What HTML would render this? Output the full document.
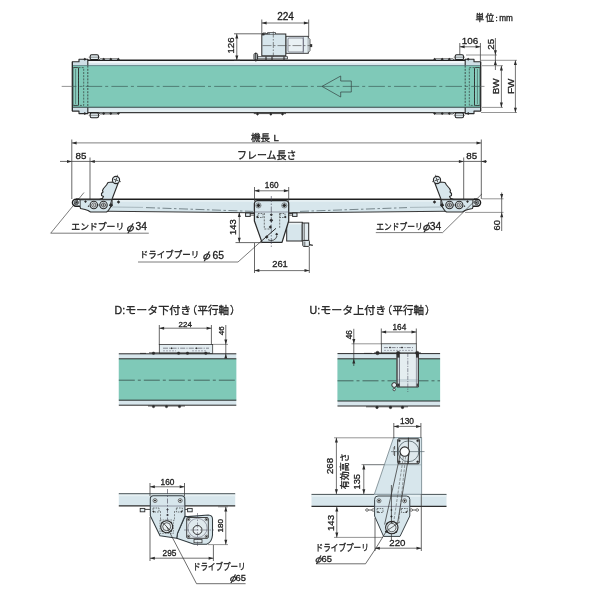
<!DOCTYPE html>
<html lang="ja"><head><meta charset="utf-8"><title>conveyor dimensions</title>
<style>
html,body{margin:0;padding:0;background:#fff;}
body{width:600px;height:600px;overflow:hidden;}
svg{display:block;}
text{font-family:"Liberation Sans","Noto Sans CJK JP",sans-serif;fill:#1c1c1c;stroke:#1c1c1c;stroke-width:0.3px;}
</style></head><body>
<svg width="600" height="600" viewBox="0 0 600 600" style="transform:translateZ(0)">
<rect x="88" y="60.3" width="377" height="52.2" fill="#d7e6ec" stroke="#2b2b2b" stroke-width="0.0" rx="0" />
<rect x="88" y="60.6" width="377" height="2.6" fill="#f1f6f8" stroke="#2b2b2b" stroke-width="0.0" rx="0" />
<rect x="88" y="109.6" width="377" height="2.6" fill="#e4eef1" stroke="#2b2b2b" stroke-width="0.0" rx="0" />
<path d="M72.4,61.7 L79,61.7 L79,59.2 L87.8,59.2 L87.8,113.6 L79,113.6 L79,111.1 L72.4,111.1 Z" fill="#cfdfe6" stroke="#2b2b2b" stroke-width="1.12" stroke-linejoin="round" />
<path d="M480.6,61.7 L474,61.7 L474,59.2 L465.2,59.2 L465.2,113.6 L474,113.6 L474,111.1 L480.6,111.1 Z" fill="#cfdfe6" stroke="#2b2b2b" stroke-width="1.12" stroke-linejoin="round" />
<rect x="72.4" y="65.6" width="408.2" height="41.7" fill="#7fc9b8" stroke="#2b2b2b" stroke-width="0.0" rx="0" />
<line x1="72.4" y1="65.6" x2="480.6" y2="65.6" stroke="#5f7f84" stroke-width="0.88" />
<line x1="72.4" y1="107.3" x2="480.6" y2="107.3" stroke="#3a4a4a" stroke-width="1.12" />
<line x1="87.8" y1="60.3" x2="465.2" y2="60.3" stroke="#1e1e1e" stroke-width="1.38" />
<line x1="87.8" y1="112.5" x2="465.2" y2="112.5" stroke="#3c3c3c" stroke-width="1.25" />
<line x1="72.4" y1="61.7" x2="72.4" y2="111.1" stroke="#2b2b2b" stroke-width="1.25" />
<line x1="480.6" y1="61.7" x2="480.6" y2="111.1" stroke="#2b2b2b" stroke-width="1.25" />
<rect x="72.9" y="67.6" width="5.6" height="37.8" fill="#8bcfc0" stroke="#2b2b2b" stroke-width="0.88" rx="0.8" />
<line x1="75.6" y1="69" x2="75.6" y2="104" stroke="#3a5a55" stroke-width="0.62" />
<rect x="474.5" y="67.6" width="5.6" height="37.8" fill="#8bcfc0" stroke="#2b2b2b" stroke-width="0.88" rx="0.8" />
<line x1="477.4" y1="69" x2="477.4" y2="104" stroke="#3a5a55" stroke-width="0.62" />
<rect x="78.5" y="67.6" width="5.2" height="37.8" fill="none" stroke="#2b2b2b" stroke-width="0.62" rx="0" stroke-dasharray="2 1.2"/>
<rect x="469.3" y="67.6" width="5.2" height="37.8" fill="none" stroke="#2b2b2b" stroke-width="0.62" rx="0" stroke-dasharray="2 1.2"/>
<line x1="87.8" y1="65.6" x2="87.8" y2="107.3" stroke="#2b2b2b" stroke-width="0.75" stroke-dasharray="2 1.2"/>
<line x1="465.2" y1="65.6" x2="465.2" y2="107.3" stroke="#2b2b2b" stroke-width="0.75" stroke-dasharray="2 1.2"/>
<line x1="72.4" y1="86.4" x2="480.6" y2="86.4" stroke="#3c5c58" stroke-width="0.69" stroke-dasharray="16.5 3 3 3.2" stroke-dashoffset="12.4"/>
<line x1="61.7" y1="86.4" x2="72.4" y2="86.4" stroke="#666" stroke-width="0.69" />
<line x1="480.6" y1="86.4" x2="484.5" y2="86.4" stroke="#666" stroke-width="0.69" />
<rect x="90.2" y="54.8" width="8.3" height="4.8" fill="#e3edf1" stroke="#222" stroke-width="1.06" rx="1.4" />
<line x1="88.7" y1="57.2" x2="100.0" y2="57.2" stroke="#444" stroke-width="0.56" />
<rect x="90.2" y="112.9" width="8.3" height="4.8" fill="#e3edf1" stroke="#222" stroke-width="1.06" rx="1.4" />
<line x1="88.7" y1="115.3" x2="100.0" y2="115.3" stroke="#444" stroke-width="0.56" />
<rect x="455.2" y="54.8" width="8.3" height="4.8" fill="#e3edf1" stroke="#222" stroke-width="1.06" rx="1.4" />
<line x1="453.7" y1="57.2" x2="465.0" y2="57.2" stroke="#444" stroke-width="0.56" />
<rect x="455.2" y="112.9" width="8.3" height="4.8" fill="#e3edf1" stroke="#222" stroke-width="1.06" rx="1.4" />
<line x1="453.7" y1="115.3" x2="465.0" y2="115.3" stroke="#444" stroke-width="0.56" />
<path d="M98.8,60 L100,58.9 L117,58.9 L119.5,60" fill="#e3edf1" stroke="#333" stroke-width="0.88" stroke-linejoin="round" />
<path d="M98.8,112.8 L100,113.9 L117,113.9 L119.5,112.8" fill="#e3edf1" stroke="#333" stroke-width="0.88" stroke-linejoin="round" />
<path d="M454.2,60 L453,58.9 L436,58.9 L433.5,60" fill="#e3edf1" stroke="#333" stroke-width="0.88" stroke-linejoin="round" />
<path d="M454.2,112.8 L453,113.9 L436,113.9 L433.5,112.8" fill="#e3edf1" stroke="#333" stroke-width="0.88" stroke-linejoin="round" />
<polygon points="84.8,57.8 86.3,59.3 84.8,60.8 83.3,59.3" fill="#2b2b2b"/>
<polygon points="84.8,112.0 86.3,113.5 84.8,115.0 83.3,113.5" fill="#2b2b2b"/>
<polygon points="103.7,57.8 105.2,59.3 103.7,60.8 102.2,59.3" fill="#2b2b2b"/>
<polygon points="103.7,112.0 105.2,113.5 103.7,115.0 102.2,113.5" fill="#2b2b2b"/>
<polygon points="110.8,57.8 112.3,59.3 110.8,60.8 109.3,59.3" fill="#2b2b2b"/>
<polygon points="110.8,112.0 112.3,113.5 110.8,115.0 109.3,113.5" fill="#2b2b2b"/>
<polygon points="118.3,57.8 119.8,59.3 118.3,60.8 116.8,59.3" fill="#2b2b2b"/>
<polygon points="118.3,112.0 119.8,113.5 118.3,115.0 116.8,113.5" fill="#2b2b2b"/>
<polygon points="468.2,57.8 469.7,59.3 468.2,60.8 466.7,59.3" fill="#2b2b2b"/>
<polygon points="468.2,112.0 469.7,113.5 468.2,115.0 466.7,113.5" fill="#2b2b2b"/>
<polygon points="449.3,57.8 450.8,59.3 449.3,60.8 447.8,59.3" fill="#2b2b2b"/>
<polygon points="449.3,112.0 450.8,113.5 449.3,115.0 447.8,113.5" fill="#2b2b2b"/>
<polygon points="442.2,57.8 443.7,59.3 442.2,60.8 440.7,59.3" fill="#2b2b2b"/>
<polygon points="442.2,112.0 443.7,113.5 442.2,115.0 440.7,113.5" fill="#2b2b2b"/>
<polygon points="434.7,57.8 436.2,59.3 434.7,60.8 433.2,59.3" fill="#2b2b2b"/>
<polygon points="434.7,112.0 436.2,113.5 434.7,115.0 433.2,113.5" fill="#2b2b2b"/>
<line x1="253.8" y1="113.6" x2="286" y2="113.6" stroke="#333" stroke-width="0.88" />
<line x1="257.5" y1="112.5" x2="257.5" y2="115.2" stroke="#2b2b2b" stroke-width="1.25" />
<polygon points="257.5,112.8 258.9,114.2 257.5,115.60000000000001 256.1,114.2" fill="#2b2b2b"/>
<line x1="270.8" y1="112.5" x2="270.8" y2="115.2" stroke="#2b2b2b" stroke-width="1.25" />
<polygon points="270.8,112.8 272.2,114.2 270.8,115.60000000000001 269.40000000000003,114.2" fill="#2b2b2b"/>
<line x1="282.5" y1="112.5" x2="282.5" y2="115.2" stroke="#2b2b2b" stroke-width="1.25" />
<polygon points="282.5,112.8 283.9,114.2 282.5,115.60000000000001 281.1,114.2" fill="#2b2b2b"/>
<path d="M322,86.4 L340.7,76 L340.7,81 L351.3,81 L351.3,92 L340.7,92 L340.7,97 Z" fill="none" stroke="#3a4a48" stroke-width="0.75" stroke-linejoin="round" />
<rect x="285.8" y="36.3" width="22.5" height="17" fill="#e3edf1" stroke="#2b2b2b" stroke-width="0.88" rx="0" />
<rect x="261.8" y="34" width="24" height="21.8" fill="#d7e6ec" stroke="#2b2b2b" stroke-width="1.0" rx="0" />
<rect x="288" y="38" width="15.3" height="14" fill="#e9f1f4" stroke="#556" stroke-width="0.62" rx="1" />
<line x1="303.3" y1="36.3" x2="303.3" y2="53.3" stroke="#556" stroke-width="0.62" />
<path d="M308.3,37.5 L310,39.5 L310,50.5 L308.3,52.5" fill="#e3edf1" stroke="#2b2b2b" stroke-width="0.75" stroke-linejoin="round" />
<rect x="310.2" y="44.3" width="1.8" height="2.6" fill="#2b2b2b" stroke="#2b2b2b" stroke-width="0.38" rx="0" />
<path d="M263,34 L263,33 L266,33 L266,34 M267.5,34 L267.5,32.6 L275.5,32.6 L275.5,34" fill="#d7e6ec" stroke="#2b2b2b" stroke-width="0.75" stroke-linejoin="round" />
<rect x="262.2" y="33.4" width="2.2" height="1.8" fill="#2b2b2b" stroke="#2b2b2b" stroke-width="0.25" rx="0" />
<line x1="262.5" y1="45.6" x2="310" y2="45.6" stroke="#444" stroke-width="0.62" stroke-dasharray="9 2 2 2"/>
<line x1="273.3" y1="31.5" x2="273.3" y2="58.5" stroke="#444" stroke-width="0.62" stroke-dasharray="6 1.5 1.5 1.5"/>
<rect x="257.5" y="56.7" width="30" height="2.2" fill="#e3edf1" stroke="#2b2b2b" stroke-width="0.75" rx="0" />
<rect x="254" y="53.6" width="3.6" height="6.2" fill="#e3edf1" stroke="#2b2b2b" stroke-width="1.0" rx="0.8" />
<line x1="255.8" y1="52.5" x2="255.8" y2="61.5" stroke="#2b2b2b" stroke-width="1.12" />
<line x1="266" y1="56.5" x2="266" y2="60.5" stroke="#2b2b2b" stroke-width="1.12" />
<line x1="272" y1="56.5" x2="272" y2="60.5" stroke="#2b2b2b" stroke-width="1.12" />
<line x1="284" y1="56.5" x2="284" y2="60.5" stroke="#2b2b2b" stroke-width="1.12" />
<line x1="261.8" y1="19.5" x2="261.8" y2="33.5" stroke="#3c3c3c" stroke-width="0.78" />
<line x1="308.7" y1="19.5" x2="308.7" y2="37" stroke="#3c3c3c" stroke-width="0.78" />
<line x1="261.8" y1="23" x2="308.7" y2="23" stroke="#444" stroke-width="0.75" />
<polygon points="261.8,23 266.6,21.5 266.6,24.5" fill="#2b2b2b"/>
<polygon points="308.7,23 303.9,21.5 303.9,24.5" fill="#2b2b2b"/>
<text x="285.6" y="20" font-size="10" text-anchor="middle" font-weight="400" letter-spacing="0" >224</text>
<line x1="234" y1="33.8" x2="270" y2="33.8" stroke="#3c3c3c" stroke-width="0.78" />
<line x1="234" y1="60.3" x2="240" y2="60.3" stroke="#3c3c3c" stroke-width="0.78" />
<line x1="236.8" y1="33.8" x2="236.8" y2="60.3" stroke="#444" stroke-width="0.75" />
<polygon points="236.8,33.8 235.3,38.599999999999994 238.3,38.599999999999994" fill="#2b2b2b"/>
<polygon points="236.8,60.3 235.3,55.5 238.3,55.5" fill="#2b2b2b"/>
<text x="233.8" y="45.5" font-size="9.7" text-anchor="middle" font-weight="400" letter-spacing="0" transform="rotate(-90 233.8 45.5)" >126</text>
<line x1="459.8" y1="43" x2="459.8" y2="55" stroke="#3c3c3c" stroke-width="0.78" />
<line x1="480.4" y1="43" x2="480.4" y2="61" stroke="#3c3c3c" stroke-width="0.78" />
<line x1="459.8" y1="46.8" x2="480.4" y2="46.8" stroke="#444" stroke-width="0.75" />
<polygon points="459.8,46.8 464.6,45.3 464.6,48.3" fill="#2b2b2b"/>
<polygon points="480.4,46.8 475.59999999999997,45.3 475.59999999999997,48.3" fill="#2b2b2b"/>
<text x="470" y="44.2" font-size="9.9" text-anchor="middle" font-weight="400" letter-spacing="0" >106</text>
<line x1="466" y1="55" x2="497" y2="55" stroke="#555" stroke-width="0.62" />
<line x1="481" y1="60.3" x2="517" y2="60.3" stroke="#555" stroke-width="0.62" />
<line x1="495.4" y1="38" x2="495.4" y2="70" stroke="#2b2b2b" stroke-width="0.69" />
<polygon points="495.4,55 493.9,50.2 496.9,50.2" fill="#2b2b2b"/>
<polygon points="495.4,60.3 493.9,65.1 496.9,65.1" fill="#2b2b2b"/>
<text x="494" y="44.3" font-size="9.7" text-anchor="middle" font-weight="400" letter-spacing="0" transform="rotate(-90 494 44.3)" >25</text>
<line x1="482" y1="65.7" x2="503" y2="65.7" stroke="#555" stroke-width="0.62" />
<line x1="482" y1="107.4" x2="503" y2="107.4" stroke="#555" stroke-width="0.62" />
<line x1="481" y1="112.5" x2="517" y2="112.5" stroke="#555" stroke-width="0.62" />
<line x1="501.4" y1="65.7" x2="501.4" y2="107.4" stroke="#444" stroke-width="0.75" />
<polygon points="501.4,65.7 499.9,70.5 502.9,70.5" fill="#2b2b2b"/>
<polygon points="501.4,107.4 499.9,102.60000000000001 502.9,102.60000000000001" fill="#2b2b2b"/>
<line x1="515.4" y1="60.3" x2="515.4" y2="112.5" stroke="#444" stroke-width="0.75" />
<polygon points="515.4,60.3 513.9,65.1 516.9,65.1" fill="#2b2b2b"/>
<polygon points="515.4,112.5 513.9,107.7 516.9,107.7" fill="#2b2b2b"/>
<text x="499.4" y="86.4" font-size="9.9" text-anchor="middle" font-weight="400" letter-spacing="0" transform="rotate(-90 499.4 86.4)" >BW</text>
<text x="513.6" y="86.4" font-size="9.9" text-anchor="middle" font-weight="400" letter-spacing="0" transform="rotate(-90 513.6 86.4)" >FW</text>
<text x="475.6" y="21.2" font-size="8.6" text-anchor="start" font-weight="400" letter-spacing="1.3" fill="#333">単位</text>
<text x="495.6" y="20.6" font-size="8" text-anchor="start" font-weight="400" letter-spacing="0" fill="#333">:</text>
<text x="499.2" y="21" font-size="8.2" text-anchor="start" font-weight="400" letter-spacing="0" fill="#444" stroke="none">mm</text>
<line x1="71.8" y1="139.5" x2="71.8" y2="199" stroke="#3c3c3c" stroke-width="0.78" />
<line x1="481.3" y1="139.5" x2="481.3" y2="199" stroke="#3c3c3c" stroke-width="0.78" />
<line x1="71.8" y1="142.9" x2="481.3" y2="142.9" stroke="#707070" stroke-width="0.88" />
<polygon points="71.8,142.9 76.6,141.4 76.6,144.4" fill="#2b2b2b"/>
<polygon points="481.3,142.9 476.5,141.4 476.5,144.4" fill="#2b2b2b"/>
<text x="251" y="141.3" font-size="9.5" text-anchor="start" font-weight="400" letter-spacing="0" >機長</text>
<text x="273.4" y="141.3" font-size="9.6" text-anchor="start" font-weight="400" letter-spacing="0" >L</text>
<line x1="90" y1="157.5" x2="90" y2="200" stroke="#3c3c3c" stroke-width="0.78" />
<line x1="463.7" y1="157.5" x2="463.7" y2="200" stroke="#3c3c3c" stroke-width="0.78" />
<line x1="90" y1="161.4" x2="463.7" y2="161.4" stroke="#555" stroke-width="0.81" />
<polygon points="90,161.4 94.8,159.9 94.8,162.9" fill="#2b2b2b"/>
<polygon points="463.7,161.4 458.9,159.9 458.9,162.9" fill="#2b2b2b"/>
<text x="237" y="159.4" font-size="9.8" text-anchor="start" font-weight="400" letter-spacing="0" textLength="59.4" lengthAdjust="spacingAndGlyphs">フレーム長さ</text>
<line x1="60" y1="161.4" x2="90" y2="161.4" stroke="#444" stroke-width="0.81" />
<polygon points="71.8,161.4 67.0,159.9 67.0,162.9" fill="#2b2b2b"/>
<line x1="463.7" y1="161.4" x2="487" y2="161.4" stroke="#444" stroke-width="0.81" />
<polygon points="481.3,161.4 486.1,159.9 486.1,162.9" fill="#2b2b2b"/>
<text x="80.9" y="159.1" font-size="9.8" text-anchor="middle" font-weight="400" letter-spacing="0" >85</text>
<text x="471.8" y="159.1" font-size="9.8" text-anchor="middle" font-weight="400" letter-spacing="0" >85</text>
<path d="M76,199.2 L477,199.2 L477,206.2 L473,206.3 L462.5,210.6 L445,211.4 L300,212.8 L253,212.8 L108,211.4 L90.5,210.6 L80,206.3 L76,206.2 Z" fill="#d7e6ec" stroke="#2b2b2b" stroke-width="0.0" stroke-linejoin="round" />
<rect x="78" y="199.6" width="397" height="2.2" fill="#e6f0f3" stroke="#2b2b2b" stroke-width="0.0" rx="0" />
<line x1="76" y1="199.2" x2="477" y2="199.2" stroke="#1e1e1e" stroke-width="1.38" />
<path d="M108,211.2 L253,212.8 L300,212.8 L445,211.2" fill="none" stroke="#3a3a3a" stroke-width="1.12" stroke-linejoin="round" />
<line x1="112" y1="207" x2="143" y2="207.4" stroke="#8a9aa0" stroke-width="0.62" />
<line x1="410" y1="207.4" x2="441" y2="207" stroke="#8a9aa0" stroke-width="0.62" />
<line x1="146" y1="207.6" x2="253" y2="211.4" stroke="#4a5a60" stroke-width="0.69" stroke-dasharray="9 2.5 2.5 2.5"/>
<line x1="300" y1="211.4" x2="407" y2="207.6" stroke="#4a5a60" stroke-width="0.69" stroke-dasharray="9 2.5 2.5 2.5"/>
<path d="M80,206.3 L80.5,208.5 L85,209.5 L88,210.5 L90.5,212 L106.5,212 L108,211 L112,205 L112,199.8 L80,199.8 Z" fill="#d7e6ec" stroke="#2b2b2b" stroke-width="1.12" stroke-linejoin="round" />
<path d="M79,199.2 L76,199.2 A3.6,3.5 0 0 0 76,206.2 L80,206.3" fill="#e3edf1" stroke="#1e1e1e" stroke-width="1.38" stroke-linejoin="round" />
<circle cx="76.4" cy="202.6" r="2.0" fill="#cfdde3" stroke="#2b2b2b" stroke-width="0.88"/>
<rect x="75.5" y="201.6" width="2.2" height="2.0" fill="#333" stroke="#2b2b2b" stroke-width="0.0" rx="0" />
<circle cx="93.8" cy="205" r="3.7" fill="#e3edf1" stroke="#2b2b2b" stroke-width="1.12"/>
<circle cx="93.8" cy="205" r="2.1" fill="#f3f7f9" stroke="#2b2b2b" stroke-width="0.75"/>
<circle cx="103.5" cy="205" r="3.7" fill="#e3edf1" stroke="#2b2b2b" stroke-width="1.12"/>
<circle cx="103.5" cy="205" r="2.1" fill="#f3f7f9" stroke="#2b2b2b" stroke-width="0.75"/>
<circle cx="93.8" cy="205" r="0.7" fill="#2b2b2b" stroke="#2b2b2b" stroke-width="0.0"/>
<line x1="101.8" y1="205" x2="105.2" y2="205" stroke="#2b2b2b" stroke-width="0.62" />
<line x1="103.5" y1="203.3" x2="103.5" y2="206.7" stroke="#2b2b2b" stroke-width="0.62" />
<line x1="97.4" y1="205" x2="99.9" y2="205" stroke="#2b2b2b" stroke-width="0.62" />
<polygon points="85.5,200.2 86.9,201.6 85.5,203.0 84.1,201.6" fill="#2b2b2b"/>
<polygon points="88.5,205.29999999999998 89.4,206.2 88.5,207.1 87.6,206.2" fill="#2b2b2b"/>
<polygon points="111,203.1 113.1,205.2 111,207.29999999999998 108.9,205.2" fill="#2b2b2b"/>
<polygon points="118.5,200.3 120.2,202 118.5,203.7 116.8,202" fill="#2b2b2b"/>
<path d="M112.5,182 L108,182.5 L106.5,185 L103.5,188.5 L102.5,190.5 L103,192 L101.5,193.5 L101.5,195.5 L103.5,196.5 L102.5,198.2 L100,199.2 L112,199.2 L118,183.5 Z" fill="#d7e6ec" stroke="#2b2b2b" stroke-width="1.12" stroke-linejoin="round" />
<line x1="112" y1="199.2" x2="109.5" y2="206" stroke="#2b2b2b" stroke-width="0.75" />
<circle cx="116" cy="180" r="3.6" fill="#e3edf1" stroke="#2b2b2b" stroke-width="1.12"/>
<line x1="113.6" y1="179.2" x2="118.4" y2="180.8" stroke="#2b2b2b" stroke-width="0.75" />
<line x1="116.8" y1="177.6" x2="115.2" y2="182.4" stroke="#2b2b2b" stroke-width="0.75" />
<line x1="117.6" y1="174.8" x2="117" y2="177" stroke="#2b2b2b" stroke-width="0.62" />
<line x1="119.4" y1="181.2" x2="121" y2="181.8" stroke="#2b2b2b" stroke-width="0.62" />
<path d="M473,206.3 L472.5,208.5 L468,209.5 L465,210.5 L462.5,212 L446.5,212 L445,211 L441,205 L441,199.8 L473,199.8 Z" fill="#d7e6ec" stroke="#2b2b2b" stroke-width="1.12" stroke-linejoin="round" />
<path d="M474,199.2 L477,199.2 A3.6,3.5 0 0 1 477,206.2 L473,206.3" fill="#e3edf1" stroke="#1e1e1e" stroke-width="1.38" stroke-linejoin="round" />
<circle cx="476.6" cy="202.6" r="2.0" fill="#cfdde3" stroke="#2b2b2b" stroke-width="0.88"/>
<rect x="475.29999999999995" y="201.6" width="2.2" height="2.0" fill="#333" stroke="#2b2b2b" stroke-width="0.0" rx="0" />
<circle cx="459.2" cy="205" r="3.7" fill="#e3edf1" stroke="#2b2b2b" stroke-width="1.12"/>
<circle cx="459.2" cy="205" r="2.1" fill="#f3f7f9" stroke="#2b2b2b" stroke-width="0.75"/>
<circle cx="449.5" cy="205" r="3.7" fill="#e3edf1" stroke="#2b2b2b" stroke-width="1.12"/>
<circle cx="449.5" cy="205" r="2.1" fill="#f3f7f9" stroke="#2b2b2b" stroke-width="0.75"/>
<circle cx="459.2" cy="205" r="0.7" fill="#2b2b2b" stroke="#2b2b2b" stroke-width="0.0"/>
<line x1="451.2" y1="205" x2="447.8" y2="205" stroke="#2b2b2b" stroke-width="0.62" />
<line x1="449.5" y1="203.3" x2="449.5" y2="206.7" stroke="#2b2b2b" stroke-width="0.62" />
<line x1="455.6" y1="205" x2="453.1" y2="205" stroke="#2b2b2b" stroke-width="0.62" />
<polygon points="467.5,200.2 468.9,201.6 467.5,203.0 466.1,201.6" fill="#2b2b2b"/>
<polygon points="464.5,205.29999999999998 465.4,206.2 464.5,207.1 463.6,206.2" fill="#2b2b2b"/>
<polygon points="442,203.1 444.1,205.2 442,207.29999999999998 439.9,205.2" fill="#2b2b2b"/>
<polygon points="434.5,200.3 436.2,202 434.5,203.7 432.8,202" fill="#2b2b2b"/>
<path d="M440.5,182 L445,182.5 L446.5,185 L449.5,188.5 L450.5,190.5 L450,192 L451.5,193.5 L451.5,195.5 L449.5,196.5 L450.5,198.2 L453,199.2 L441,199.2 L435,183.5 Z" fill="#d7e6ec" stroke="#2b2b2b" stroke-width="1.12" stroke-linejoin="round" />
<line x1="441" y1="199.2" x2="443.5" y2="206" stroke="#2b2b2b" stroke-width="0.75" />
<circle cx="437" cy="180" r="3.6" fill="#e3edf1" stroke="#2b2b2b" stroke-width="1.12"/>
<line x1="439.4" y1="179.2" x2="434.6" y2="180.8" stroke="#2b2b2b" stroke-width="0.75" />
<line x1="436.2" y1="177.6" x2="437.8" y2="182.4" stroke="#2b2b2b" stroke-width="0.75" />
<line x1="435.4" y1="174.8" x2="436" y2="177" stroke="#2b2b2b" stroke-width="0.62" />
<line x1="433.6" y1="181.2" x2="432" y2="181.8" stroke="#2b2b2b" stroke-width="0.62" />
<rect x="286.7" y="222.3" width="15.6" height="18.7" fill="#d7e6ec" stroke="#2b2b2b" stroke-width="1.0" rx="0" />
<rect x="287.2" y="222.8" width="14.6" height="1.6" fill="#eef4f6" stroke="#2b2b2b" stroke-width="0.0" rx="0" />
<rect x="302.2" y="223" width="6.5" height="18" fill="#e3edf1" stroke="#2b2b2b" stroke-width="1.0" rx="0" />
<line x1="304.2" y1="223" x2="304.2" y2="241" stroke="#3c3c3c" stroke-width="0.78" />
<rect x="302.8" y="240.4" width="6.6" height="6" fill="#e3edf1" stroke="#2b2b2b" stroke-width="1.0" rx="1" />
<line x1="304.8" y1="241.5" x2="304.8" y2="246" stroke="#3c3c3c" stroke-width="0.78" />
<line x1="309.4" y1="244.6" x2="312.8" y2="245.4" stroke="#2b2b2b" stroke-width="1.12" />
<rect x="245.6" y="213" width="4.6" height="3.4" fill="#e3edf1" stroke="#2b2b2b" stroke-width="1.0" rx="0" />
<line x1="250.2" y1="213.6" x2="255" y2="213.6" stroke="#2b2b2b" stroke-width="1.0" />
<line x1="250.2" y1="215.2" x2="255" y2="215.2" stroke="#3c3c3c" stroke-width="0.78" />
<rect x="292.6" y="213" width="4.4" height="3.4" fill="#e3edf1" stroke="#2b2b2b" stroke-width="1.0" rx="0" />
<line x1="288.7" y1="213.6" x2="292.6" y2="213.6" stroke="#2b2b2b" stroke-width="1.0" />
<line x1="288.7" y1="215.2" x2="292.6" y2="215.2" stroke="#3c3c3c" stroke-width="0.78" />
<path d="M257.4,200.6 L285.7,200.6 Q288.7,200.6 288.7,203.6 L288.7,221 L282,242.4 L262,242.4 L254.4,221 L254.4,203.6 Q254.4,200.6 257.4,200.6 Z" fill="#d7e6ec" stroke="#2b2b2b" stroke-width="1.25" stroke-linejoin="round" />
<line x1="254.4" y1="212" x2="288.7" y2="212" stroke="#667" stroke-width="0.62" />
<polygon points="258.4,203.3 260.5,205.4 258.4,207.5 256.29999999999995,205.4" fill="#2b2b2b"/>
<polygon points="284.3,203.3 286.40000000000003,205.4 284.3,207.5 282.2,205.4" fill="#2b2b2b"/>
<circle cx="258.4" cy="205.4" r="2.6" fill="none" stroke="#2b2b2b" stroke-width="0.5"/>
<circle cx="284.3" cy="205.4" r="2.6" fill="none" stroke="#2b2b2b" stroke-width="0.5"/>
<polygon points="271.3,213.2 272.8,214.7 271.3,216.2 269.8,214.7" fill="#2b2b2b"/>
<polygon points="271.3,218.4 273.2,220.3 271.3,222.20000000000002 269.40000000000003,220.3" fill="#2b2b2b"/>
<polygon points="270.4,225.3 272.09999999999997,227 270.4,228.7 268.7,227" fill="#2b2b2b"/>
<polygon points="257.3,215.7 258.6,217 257.3,218.3 256.0,217" fill="#2b2b2b"/>
<polygon points="285.3,215.7 286.6,217 285.3,218.3 284.0,217" fill="#2b2b2b"/>
<polygon points="276.7,232.8 278.2,234.3 276.7,235.8 275.2,234.3" fill="#2b2b2b"/>
<line x1="271.3" y1="196" x2="271.3" y2="248" stroke="#445" stroke-width="0.62" stroke-dasharray="6 1.5 1.5 1.5"/>
<path d="M264.3,213 L264.3,229 L270,229 M279.7,213 L279.7,229" fill="none" stroke="#2b2b2b" stroke-width="0.62" stroke-linejoin="round" stroke-dasharray="2 1.2"/>
<path d="M258,213.5 h5 v4 h-5 z M280,213.5 h5 v4 h-5 z" fill="none" stroke="#2b2b2b" stroke-width="0.62" stroke-linejoin="round" stroke-dasharray="1.6 1"/>
<path d="M268,239.7 A6,6 0 0 0 277,236" fill="none" stroke="#2b2b2b" stroke-width="0.8"/>
<line x1="260" y1="242.3" x2="276" y2="228.3" stroke="#2b2b2b" stroke-width="1.0" />
<polygon points="266.7,235.2 268.5,237 266.7,238.8 264.9,237" fill="#2b2b2b"/>
<line x1="254.5" y1="187" x2="254.5" y2="201" stroke="#3c3c3c" stroke-width="0.78" />
<line x1="288.7" y1="187" x2="288.7" y2="201" stroke="#3c3c3c" stroke-width="0.78" />
<line x1="254.5" y1="190.8" x2="288.7" y2="190.8" stroke="#444" stroke-width="0.75" />
<polygon points="254.5,190.8 259.3,189.3 259.3,192.3" fill="#2b2b2b"/>
<polygon points="288.7,190.8 283.9,189.3 283.9,192.3" fill="#2b2b2b"/>
<text x="271.7" y="187.8" font-size="8.2" text-anchor="middle" font-weight="400" letter-spacing="0" >160</text>
<line x1="235.5" y1="242.6" x2="262" y2="242.6" stroke="#3c3c3c" stroke-width="0.78" />
<line x1="239.3" y1="212.2" x2="239.3" y2="242.6" stroke="#444" stroke-width="0.75" />
<polygon points="239.3,212.2 237.8,217.0 240.8,217.0" fill="#2b2b2b"/>
<polygon points="239.3,242.6 237.8,237.79999999999998 240.8,237.79999999999998" fill="#2b2b2b"/>
<text x="236.4" y="227.2" font-size="9.4" text-anchor="middle" font-weight="400" letter-spacing="0" transform="rotate(-90 236.4 227.2)" >143</text>
<line x1="254.5" y1="243" x2="254.5" y2="273" stroke="#3c3c3c" stroke-width="0.78" />
<line x1="309.3" y1="247" x2="309.3" y2="273" stroke="#3c3c3c" stroke-width="0.78" />
<line x1="254.5" y1="270.6" x2="309.3" y2="270.6" stroke="#444" stroke-width="0.75" />
<polygon points="254.5,270.6 259.3,269.1 259.3,272.1" fill="#2b2b2b"/>
<polygon points="309.3,270.6 304.5,269.1 304.5,272.1" fill="#2b2b2b"/>
<text x="280" y="267.4" font-size="9.4" text-anchor="middle" font-weight="400" letter-spacing="0" >261</text>
<path d="M260,242.3 L238,262 L138,262" fill="none" stroke="#2b2b2b" stroke-width="0.62" stroke-linejoin="round" />
<text x="139.8" y="258.4" font-size="8.7" text-anchor="start" font-weight="400" letter-spacing="0" textLength="59.5" lengthAdjust="spacingAndGlyphs">ドライブプーリ</text>
<text x="200" y="260.2" font-size="11.8" font-style="italic" style="font-family:IPAGothic,'Liberation Sans',sans-serif">φ</text>
<text x="212.6" y="258.6" font-size="10.3" text-anchor="start" font-weight="400" letter-spacing="0" stroke-width="0.1">65</text>
<path d="M84,192.5 L50.7,233.2 L148.8,233.2" fill="none" stroke="#2b2b2b" stroke-width="0.62" stroke-linejoin="round" />
<text x="71.3" y="229.8" font-size="8.8" text-anchor="start" font-weight="400" letter-spacing="0" textLength="53" lengthAdjust="spacingAndGlyphs">エンドプーリ</text>
<text x="123.7" y="231.6" font-size="11.8" font-style="italic" style="font-family:IPAGothic,'Liberation Sans',sans-serif">φ</text>
<text x="135.6" y="230" font-size="10.3" text-anchor="start" font-weight="400" letter-spacing="0" stroke-width="0.1">34</text>
<path d="M482,193.8 L442.6,232.6 L375.8,232.6" fill="none" stroke="#2b2b2b" stroke-width="0.62" stroke-linejoin="round" />
<text x="376.3" y="229.6" font-size="8.8" text-anchor="start" font-weight="400" letter-spacing="0" textLength="46.4" lengthAdjust="spacingAndGlyphs">エンドプーリ</text>
<text x="420.1" y="231.4" font-size="11.5" font-style="italic" style="font-family:IPAGothic,'Liberation Sans',sans-serif">φ</text>
<text x="429.8" y="229.8" font-size="10.3" text-anchor="start" font-weight="400" letter-spacing="0" stroke-width="0.1">34</text>
<line x1="482" y1="198.8" x2="503.5" y2="198.8" stroke="#555" stroke-width="0.62" />
<line x1="465" y1="212.4" x2="503.5" y2="212.4" stroke="#555" stroke-width="0.62" />
<line x1="501.7" y1="192.5" x2="501.7" y2="231" stroke="#2b2b2b" stroke-width="0.69" />
<polygon points="501.7,198.8 500.2,194.0 503.2,194.0" fill="#2b2b2b"/>
<polygon points="501.7,212.4 500.2,217.20000000000002 503.2,217.20000000000002" fill="#2b2b2b"/>
<text x="499.6" y="225.3" font-size="9.4" text-anchor="middle" font-weight="400" letter-spacing="0" transform="rotate(-90 499.6 225.3)" >60</text>
<text x="114.6" y="314.3" font-size="10.6" text-anchor="start" font-weight="400" letter-spacing="0" >D:</text>
<text x="125.2" y="314.3" font-size="10" text-anchor="start" font-weight="400" letter-spacing="0" textLength="66" lengthAdjust="spacingAndGlyphs">モータ下付き</text>
<text x="186.8" y="314.2" font-size="10.4" text-anchor="start" font-weight="400" letter-spacing="0" >（</text>
<text x="197.5" y="314.3" font-size="10.4" text-anchor="start" font-weight="400" letter-spacing="0" textLength="31.5" lengthAdjust="spacingAndGlyphs">平行軸</text>
<text x="229.9" y="314.2" font-size="10.4" text-anchor="start" font-weight="400" letter-spacing="0" >）</text>
<rect x="159.3" y="344.4" width="53.4" height="9" fill="#e3edf1" stroke="#2b2b2b" stroke-width="0.75" rx="0" />
<line x1="163" y1="348.2" x2="209" y2="348.2" stroke="#445" stroke-width="0.62" stroke-dasharray="5 1.2 1.2 1.2"/>
<line x1="163" y1="350.8" x2="176" y2="350.8" stroke="#667" stroke-width="0.5" stroke-dasharray="2 1"/>
<line x1="192" y1="350.8" x2="206" y2="350.8" stroke="#667" stroke-width="0.5" stroke-dasharray="2 1"/>
<polygon points="171.5,347.2 172.5,348.2 171.5,349.2 170.5,348.2" fill="#2b2b2b"/>
<polygon points="196.5,347.2 197.5,348.2 196.5,349.2 195.5,348.2" fill="#2b2b2b"/>
<rect x="118.8" y="353.8" width="117.5" height="51.4" fill="#d7e6ec" stroke="#2b2b2b" stroke-width="0.0" rx="0" />
<rect x="118.8" y="358.8" width="117.5" height="41.4" fill="#7fc9b8" stroke="#2b2b2b" stroke-width="0.0" rx="0" />
<line x1="118.8" y1="353.8" x2="236.3" y2="353.8" stroke="#2b2b2b" stroke-width="1.0" />
<line x1="118.8" y1="358.8" x2="236.3" y2="358.8" stroke="#2b2b2b" stroke-width="1.0" />
<line x1="118.8" y1="400.2" x2="236.3" y2="400.2" stroke="#2b2b2b" stroke-width="1.0" />
<line x1="118.8" y1="405.2" x2="236.3" y2="405.2" stroke="#2b2b2b" stroke-width="1.0" />
<line x1="118.8" y1="380.2" x2="236.3" y2="380.2" stroke="#3d5a55" stroke-width="0.88" stroke-dasharray="16 3 3 3"/>
<circle cx="153.5" cy="353.2" r="1.3" fill="#2b2b2b" stroke="#2b2b2b" stroke-width="0.38"/>
<circle cx="178.6" cy="353.2" r="1.3" fill="#2b2b2b" stroke="#2b2b2b" stroke-width="0.38"/>
<circle cx="187.5" cy="353.2" r="1.3" fill="#2b2b2b" stroke="#2b2b2b" stroke-width="0.38"/>
<circle cx="205.8" cy="353.2" r="1.3" fill="#2b2b2b" stroke="#2b2b2b" stroke-width="0.38"/>
<line x1="140" y1="353.4" x2="146" y2="353.4" stroke="#2b2b2b" stroke-width="0.88" />
<line x1="149" y1="352.8" x2="210" y2="352.8" stroke="#2b2b2b" stroke-width="0.75" />
<circle cx="153.5" cy="406.6" r="1.2" fill="#2b2b2b" stroke="#2b2b2b" stroke-width="0.38"/>
<circle cx="166.5" cy="406.6" r="1.2" fill="#2b2b2b" stroke="#2b2b2b" stroke-width="0.38"/>
<circle cx="179.5" cy="406.6" r="1.2" fill="#2b2b2b" stroke="#2b2b2b" stroke-width="0.38"/>
<line x1="148" y1="406" x2="185" y2="406" stroke="#2b2b2b" stroke-width="0.75" />
<line x1="159.3" y1="325" x2="159.3" y2="345" stroke="#3c3c3c" stroke-width="0.78" />
<line x1="211.4" y1="325" x2="211.4" y2="345" stroke="#3c3c3c" stroke-width="0.78" />
<line x1="159.3" y1="328.2" x2="211.4" y2="328.2" stroke="#444" stroke-width="0.75" />
<polygon points="159.3,328.2 164.10000000000002,326.7 164.10000000000002,329.7" fill="#2b2b2b"/>
<polygon points="211.4,328.2 206.6,326.7 206.6,329.7" fill="#2b2b2b"/>
<text x="185.2" y="326.7" font-size="7.9" text-anchor="middle" font-weight="400" letter-spacing="0" >224</text>
<line x1="213" y1="344.4" x2="228" y2="344.4" stroke="#555" stroke-width="0.62" />
<line x1="225.8" y1="325" x2="225.8" y2="357" stroke="#2b2b2b" stroke-width="0.69" />
<polygon points="225.8,344.4 224.3,339.59999999999997 227.3,339.59999999999997" fill="#2b2b2b"/>
<polygon points="225.8,353.8 224.3,358.6 227.3,358.6" fill="#2b2b2b"/>
<text x="223.6" y="330.8" font-size="8" text-anchor="middle" font-weight="400" letter-spacing="0" transform="rotate(-90 223.6 330.8)" >46</text>
<rect x="118.8" y="493.7" width="116.4" height="12.2" fill="#d7e6ec" stroke="#2b2b2b" stroke-width="0.0" rx="0" />
<rect x="118.8" y="494.2" width="116.4" height="2" fill="#e6f0f3" stroke="#2b2b2b" stroke-width="0.0" rx="0" />
<line x1="118.8" y1="493.7" x2="235.2" y2="493.7" stroke="#4a5458" stroke-width="1.0" />
<line x1="118.8" y1="505.9" x2="235.2" y2="505.9" stroke="#2e2e2e" stroke-width="1.12" />
<rect x="140.2" y="508.4" width="4.6" height="3.4" fill="#e3edf1" stroke="#2b2b2b" stroke-width="0.88" rx="0" />
<line x1="144.8" y1="509.4" x2="150.3" y2="509.4" stroke="#2b2b2b" stroke-width="0.88" />
<rect x="187.6" y="508.4" width="4.6" height="3.4" fill="#e3edf1" stroke="#2b2b2b" stroke-width="0.88" rx="0" />
<line x1="184.8" y1="509.4" x2="187.6" y2="509.4" stroke="#2b2b2b" stroke-width="0.88" />
<path d="M185,516.4 L187.5,516.6 L208.3,515 Q212.5,515.4 212.5,519 L212.5,535 Q212,542 206.7,544.2 L194.2,544.2 L176.7,538.3 L177.5,533.3 Z" fill="#d7e6ec" stroke="#333c40" stroke-width="1.06" stroke-linejoin="round" />
<path d="M153.4,495.8 L181.6,495.8 Q184.8,495.8 184.8,499 L185,515.8 L177.5,533.3 L176.7,538.3 L160,535.8 L150.3,515.8 L150.3,499 Q150.3,495.8 153.4,495.8 Z" fill="#d7e6ec" stroke="#333c40" stroke-width="1.06" stroke-linejoin="round" />
<line x1="150.3" y1="506" x2="184.8" y2="506" stroke="#667" stroke-width="0.62" />
<rect x="186.7" y="517.5" width="21.6" height="20.8" fill="#dfe9ed" stroke="#2b2b2b" stroke-width="0.88" rx="1.2" />
<circle cx="197.5" cy="530" r="4.5" fill="#e9f0f3" stroke="#2b2b2b" stroke-width="1.0"/>
<circle cx="197.5" cy="528" r="9.6" fill="none" stroke="#556" stroke-width="0.5"/>
<circle cx="188.6" cy="519.4" r="1.3" fill="#eef4f6" stroke="#2b2b2b" stroke-width="0.62"/>
<polygon points="188.6,518.5 189.5,519.4 188.6,520.3 187.7,519.4" fill="#2b2b2b"/>
<circle cx="206.4" cy="519.4" r="1.3" fill="#eef4f6" stroke="#2b2b2b" stroke-width="0.62"/>
<polygon points="206.4,518.5 207.3,519.4 206.4,520.3 205.5,519.4" fill="#2b2b2b"/>
<circle cx="188.6" cy="536.4" r="1.3" fill="#eef4f6" stroke="#2b2b2b" stroke-width="0.62"/>
<polygon points="188.6,535.5 189.5,536.4 188.6,537.3 187.7,536.4" fill="#2b2b2b"/>
<circle cx="206.4" cy="536.4" r="1.3" fill="#eef4f6" stroke="#2b2b2b" stroke-width="0.62"/>
<polygon points="206.4,535.5 207.3,536.4 206.4,537.3 205.5,536.4" fill="#2b2b2b"/>
<rect x="194" y="539.4" width="8" height="3.4" fill="#e3edf1" stroke="#2b2b2b" stroke-width="0.75" rx="0" />
<circle cx="166.7" cy="526.7" r="6" fill="#e3edf1" stroke="#2b2b2b" stroke-width="1.12"/>
<circle cx="166.7" cy="526.7" r="4" fill="#e9f0f3" stroke="#2b2b2b" stroke-width="0.75"/>
<line x1="163.4" y1="523.2" x2="170" y2="530.2" stroke="#2b2b2b" stroke-width="0.75" />
<rect x="160" y="520" width="13.4" height="13.4" fill="none" stroke="#2b2b2b" stroke-width="0.5" rx="0" stroke-dasharray="1.6 1"/>
<polygon points="162.2,521.4 163.2,522.4 162.2,523.4 161.2,522.4" fill="#2b2b2b"/>
<polygon points="171.2,521.4 172.2,522.4 171.2,523.4 170.2,522.4" fill="#2b2b2b"/>
<polygon points="162.2,530 163.2,531 162.2,532 161.2,531" fill="#2b2b2b"/>
<polygon points="171.2,530 172.2,531 171.2,532 170.2,531" fill="#2b2b2b"/>
<circle cx="155" cy="500.6" r="2.0" fill="#eef4f6" stroke="#2b2b2b" stroke-width="0.62"/>
<polygon points="155,499.40000000000003 156.2,500.6 155,501.8 153.8,500.6" fill="#2b2b2b"/>
<circle cx="180.2" cy="500.6" r="2.0" fill="#eef4f6" stroke="#2b2b2b" stroke-width="0.62"/>
<polygon points="180.2,499.40000000000003 181.39999999999998,500.6 180.2,501.8 179.0,500.6" fill="#2b2b2b"/>
<path d="M153,508 h6 v4 h-6 z M176.4,508 h6 v4 h-6 z" fill="none" stroke="#2b2b2b" stroke-width="0.62" stroke-linejoin="round" stroke-dasharray="1.6 1"/>
<polygon points="167.5,508.40000000000003 168.7,509.6 167.5,510.8 166.3,509.6" fill="#2b2b2b"/>
<polygon points="167.5,513.7 168.8,515 167.5,516.3 166.2,515" fill="#2b2b2b"/>
<polygon points="153.6,510.5 154.7,511.6 153.6,512.7 152.5,511.6" fill="#2b2b2b"/>
<polygon points="181.6,510.5 182.7,511.6 181.6,512.7 180.5,511.6" fill="#2b2b2b"/>
<line x1="167.5" y1="489" x2="167.5" y2="521" stroke="#445" stroke-width="0.62" stroke-dasharray="5 1.5 1.5 1.5"/>
<path d="M160.5,511 L160.5,521 M174.5,511 L174.5,521" fill="none" stroke="#2b2b2b" stroke-width="0.5" stroke-linejoin="round" stroke-dasharray="2 1.2"/>
<line x1="184" y1="530" x2="214" y2="530" stroke="#445" stroke-width="0.5" stroke-dasharray="5 1.5 1.5 1.5"/>
<line x1="197.5" y1="513" x2="197.5" y2="546" stroke="#445" stroke-width="0.5" stroke-dasharray="5 1.5 1.5 1.5"/>
<line x1="150" y1="483" x2="150" y2="496" stroke="#3c3c3c" stroke-width="0.78" />
<line x1="184.5" y1="483" x2="184.5" y2="496" stroke="#3c3c3c" stroke-width="0.78" />
<line x1="150" y1="486.8" x2="184.5" y2="486.8" stroke="#444" stroke-width="0.75" />
<polygon points="150,486.8 154.8,485.3 154.8,488.3" fill="#2b2b2b"/>
<polygon points="184.5,486.8 179.7,485.3 179.7,488.3" fill="#2b2b2b"/>
<text x="167.5" y="484.6" font-size="8.3" text-anchor="middle" font-weight="400" letter-spacing="0" >160</text>
<line x1="208" y1="544.6" x2="228" y2="544.6" stroke="#555" stroke-width="0.62" />
<line x1="218" y1="506.8" x2="228" y2="506.8" stroke="#555" stroke-width="0.62" />
<line x1="225.8" y1="506.8" x2="225.8" y2="544.6" stroke="#444" stroke-width="0.75" />
<polygon points="225.8,506.8 224.3,511.6 227.3,511.6" fill="#2b2b2b"/>
<polygon points="225.8,544.6 224.3,539.8000000000001 227.3,539.8000000000001" fill="#2b2b2b"/>
<text x="223.5" y="525.8" font-size="8.1" text-anchor="middle" font-weight="400" letter-spacing="0" transform="rotate(-90 223.5 525.8)" >180</text>
<line x1="150" y1="517" x2="150" y2="561" stroke="#3c3c3c" stroke-width="0.78" />
<line x1="213.4" y1="545" x2="213.4" y2="561" stroke="#3c3c3c" stroke-width="0.78" />
<line x1="150" y1="558.2" x2="213.4" y2="558.2" stroke="#444" stroke-width="0.75" />
<polygon points="150,558.2 154.8,556.7 154.8,559.7" fill="#2b2b2b"/>
<polygon points="213.4,558.2 208.6,556.7 208.6,559.7" fill="#2b2b2b"/>
<text x="169.5" y="555.7" font-size="8.3" text-anchor="middle" font-weight="400" letter-spacing="0" >295</text>
<path d="M166.7,526.7 L196.5,583.7 L245.6,583.7" fill="none" stroke="#2b2b2b" stroke-width="0.69" stroke-linejoin="round" />
<text x="193" y="569.8" font-size="8.9" text-anchor="start" font-weight="400" letter-spacing="0" textLength="52.6" lengthAdjust="spacingAndGlyphs">ドライブプーリ</text>
<text x="227.2" y="582" font-size="10.4" font-style="italic" style="font-family:IPAGothic,'Liberation Sans',sans-serif">φ</text>
<text x="235.6" y="581.4" font-size="9.4" text-anchor="start" font-weight="400" letter-spacing="0" >65</text>
<text x="309.6" y="314.3" font-size="10.6" text-anchor="start" font-weight="400" letter-spacing="0" >U:</text>
<text x="320.2" y="314.3" font-size="10" text-anchor="start" font-weight="400" letter-spacing="0" textLength="66" lengthAdjust="spacingAndGlyphs">モータ上付き</text>
<text x="381.8" y="314.2" font-size="10.4" text-anchor="start" font-weight="400" letter-spacing="0" >（</text>
<text x="392.5" y="314.3" font-size="10.4" text-anchor="start" font-weight="400" letter-spacing="0" textLength="31.5" lengthAdjust="spacingAndGlyphs">平行軸</text>
<text x="424.9" y="314.2" font-size="10.4" text-anchor="start" font-weight="400" letter-spacing="0" >）</text>
<rect x="381.3" y="343.8" width="35" height="9.4" fill="#e3edf1" stroke="#2b2b2b" stroke-width="0.75" rx="0" />
<line x1="384" y1="347.6" x2="413" y2="347.6" stroke="#445" stroke-width="0.62" stroke-dasharray="4 1.2 1.2 1.2"/>
<line x1="384" y1="350.4" x2="413" y2="350.4" stroke="#667" stroke-width="0.5" stroke-dasharray="2 1"/>
<polygon points="390,346.6 391.0,347.6 390,348.6 389.0,347.6" fill="#2b2b2b"/>
<polygon points="402,346.6 403.0,347.6 402,348.6 401.0,347.6" fill="#2b2b2b"/>
<rect x="337.5" y="353.6" width="102.6" height="52.4" fill="#d7e6ec" stroke="#2b2b2b" stroke-width="0.0" rx="0" />
<rect x="337.5" y="358.8" width="102.6" height="42.2" fill="#7fc9b8" stroke="#2b2b2b" stroke-width="0.0" rx="0" />
<line x1="337.5" y1="353.6" x2="440.1" y2="353.6" stroke="#2b2b2b" stroke-width="1.0" />
<line x1="337.5" y1="358.8" x2="440.1" y2="358.8" stroke="#2b2b2b" stroke-width="1.0" />
<line x1="337.5" y1="401" x2="440.1" y2="401" stroke="#2b2b2b" stroke-width="1.0" />
<line x1="337.5" y1="406" x2="440.1" y2="406" stroke="#2b2b2b" stroke-width="1.0" />
<line x1="337.5" y1="380.8" x2="440" y2="380.8" stroke="#3d5a55" stroke-width="0.88" stroke-dasharray="16 3 3 3"/>
<rect x="396.6" y="353.6" width="22.2" height="33.4" fill="#dbe6ea" stroke="#2b2b2b" stroke-width="0.0" rx="0" />
<rect x="399.6" y="354" width="16.6" height="25" fill="#e4edf0" stroke="#2b2b2b" stroke-width="0.0" rx="0" />
<rect x="397" y="379" width="21.4" height="3" fill="#c9d6dc" stroke="#2b2b2b" stroke-width="0.0" rx="0" />
<line x1="397" y1="353.6" x2="397" y2="387" stroke="#2a2a2a" stroke-width="1.25" />
<line x1="399.4" y1="355" x2="399.4" y2="387" stroke="#445" stroke-width="0.75" />
<line x1="418.4" y1="353.6" x2="418.4" y2="387" stroke="#444" stroke-width="1.25" />
<line x1="416.4" y1="355" x2="416.4" y2="387" stroke="#667" stroke-width="0.62" />
<line x1="397" y1="387" x2="418.4" y2="387" stroke="#333" stroke-width="1.0" />
<line x1="407.8" y1="353" x2="407.8" y2="392" stroke="#445" stroke-width="0.56" stroke-dasharray="4 1.2 1.2 1.2"/>
<circle cx="394.2" cy="385" r="2.4" fill="#e3edf1" stroke="#2b2b2b" stroke-width="1.0"/>
<circle cx="394.2" cy="389.6" r="1.2" fill="#e3edf1" stroke="#2b2b2b" stroke-width="0.75"/>
<rect x="397.2" y="383.6" width="2.4" height="3" fill="#333" stroke="#2b2b2b" stroke-width="0.0" rx="0" />
<rect x="416.6" y="383.6" width="2" height="3" fill="#444" stroke="#2b2b2b" stroke-width="0.0" rx="0" />
<rect x="397" y="354" width="2.6" height="3.6" fill="#333" stroke="#2b2b2b" stroke-width="0.0" rx="0" />
<rect x="416" y="354" width="2.6" height="3.6" fill="#333" stroke="#2b2b2b" stroke-width="0.0" rx="0" />
<circle cx="377.5" cy="353" r="1.8" fill="#2a2a2a" stroke="#2b2b2b" stroke-width="0.38"/>
<circle cx="398.2" cy="353" r="1.8" fill="#2a2a2a" stroke="#2b2b2b" stroke-width="0.38"/>
<circle cx="417.2" cy="353" r="1.8" fill="#2a2a2a" stroke="#2b2b2b" stroke-width="0.38"/>
<line x1="364" y1="353.4" x2="372" y2="353.4" stroke="#2b2b2b" stroke-width="0.88" />
<line x1="374" y1="353" x2="421" y2="353" stroke="#2b2b2b" stroke-width="0.88" />
<circle cx="377" cy="407.4" r="1.3" fill="#2b2b2b" stroke="#2b2b2b" stroke-width="0.38"/>
<circle cx="390.5" cy="407.4" r="1.3" fill="#2b2b2b" stroke="#2b2b2b" stroke-width="0.38"/>
<circle cx="402.5" cy="407.4" r="1.3" fill="#2b2b2b" stroke="#2b2b2b" stroke-width="0.38"/>
<line x1="366" y1="406.8" x2="408" y2="406.8" stroke="#2b2b2b" stroke-width="0.75" />
<line x1="381.3" y1="328.5" x2="381.3" y2="344" stroke="#3c3c3c" stroke-width="0.78" />
<line x1="416.3" y1="328.5" x2="416.3" y2="344" stroke="#3c3c3c" stroke-width="0.78" />
<line x1="381.3" y1="332" x2="416.3" y2="332" stroke="#444" stroke-width="0.75" />
<polygon points="381.3,332 386.1,330.5 386.1,333.5" fill="#2b2b2b"/>
<polygon points="416.3,332 411.5,330.5 411.5,333.5" fill="#2b2b2b"/>
<text x="399.4" y="329.6" font-size="8.2" text-anchor="middle" font-weight="400" letter-spacing="0" >164</text>
<line x1="351.5" y1="343.8" x2="381.3" y2="343.8" stroke="#555" stroke-width="0.62" />
<line x1="353.8" y1="328.8" x2="353.8" y2="366" stroke="#2b2b2b" stroke-width="0.69" />
<polygon points="353.8,343.8 352.3,339.0 355.3,339.0" fill="#2b2b2b"/>
<polygon points="353.8,358.8 352.3,363.6 355.3,363.6" fill="#2b2b2b"/>
<text x="351.7" y="334.7" font-size="8.2" text-anchor="middle" font-weight="400" letter-spacing="0" transform="rotate(-90 351.7 334.7)" >46</text>
<path d="M393.6,437.6 L421.6,437.6 L421.6,494.4 L374.3,494.4 Z" fill="#d7e6ec" stroke="#5f7078" stroke-width="0.69" stroke-linejoin="round" />
<rect x="311.5" y="494.4" width="135" height="12" fill="#d7e6ec" stroke="#2b2b2b" stroke-width="0.0" rx="0" />
<rect x="311.5" y="494.8" width="135" height="2" fill="#e6f0f3" stroke="#2b2b2b" stroke-width="0.0" rx="0" />
<line x1="311.5" y1="494.4" x2="374.3" y2="494.4" stroke="#4a5458" stroke-width="1.0" />
<line x1="421.6" y1="494.4" x2="446.5" y2="494.4" stroke="#4a5458" stroke-width="1.0" />
<line x1="374.3" y1="494.4" x2="421.6" y2="494.4" stroke="#7f9098" stroke-width="0.75" />
<line x1="311.5" y1="506.4" x2="446.5" y2="506.4" stroke="#2e2e2e" stroke-width="1.12" />
<line x1="364.5" y1="464.8" x2="421.6" y2="464.8" stroke="#8fa0a8" stroke-width="0.62" />
<rect x="397.7" y="438.8" width="21.6" height="25" fill="#dfe9ed" stroke="#2b2b2b" stroke-width="1.0" rx="1.2" />
<circle cx="408.5" cy="451.3" r="10.4" fill="none" stroke="#3c4a50" stroke-width="0.69"/>
<circle cx="399.4" cy="440.8" r="1.0" fill="#2b2b2b" stroke="#2b2b2b" stroke-width="0.38"/>
<circle cx="417.6" cy="440.8" r="1.0" fill="#2b2b2b" stroke="#2b2b2b" stroke-width="0.38"/>
<circle cx="399.4" cy="461.8" r="1.0" fill="#2b2b2b" stroke="#2b2b2b" stroke-width="0.38"/>
<circle cx="417.6" cy="461.8" r="1.0" fill="#2b2b2b" stroke="#2b2b2b" stroke-width="0.38"/>
<line x1="408.4" y1="437.6" x2="408.4" y2="463.8" stroke="#2b2b2b" stroke-width="0.88" />
<line x1="391" y1="451.6" x2="424.5" y2="451.6" stroke="#4a5a60" stroke-width="0.62" />
<circle cx="404.7" cy="451.6" r="4.7" fill="#fbfdfd" stroke="#2b2b2b" stroke-width="1.12"/>
<line x1="394.6" y1="446" x2="394.6" y2="449.5" stroke="#444" stroke-width="0.88" />
<line x1="394.6" y1="451" x2="394.6" y2="456" stroke="#444" stroke-width="0.88" />
<line x1="393.4" y1="447" x2="393.4" y2="455" stroke="#666" stroke-width="0.5" />
<path d="M378,496 L406.4,496 Q409.8,496 409.8,499.4 L409.8,516 L400,536.4 L383.6,536.4 L374.6,516 L374.6,499.4 Q374.6,496 378,496 Z" fill="#d7e6ec" stroke="#3a4246" stroke-width="1.0" stroke-linejoin="round" />
<line x1="374.6" y1="506.4" x2="409.8" y2="506.4" stroke="#667" stroke-width="0.62" />
<path d="M400.4,454 L384.6,524.5 M409,454 L397.6,523" fill="none" stroke="#333" stroke-width="0.75" stroke-linejoin="round" />
<path d="M403.4,456.5 L393.5,523.5 M405.6,456.5 L398.8,521" fill="none" stroke="#444" stroke-width="0.5" stroke-linejoin="round" stroke-dasharray="3 1.3"/>
<line x1="391.4" y1="485" x2="391.4" y2="540" stroke="#333" stroke-width="0.75" />
<circle cx="379" cy="500.8" r="2.0" fill="#eef4f6" stroke="#2b2b2b" stroke-width="0.62"/>
<polygon points="379,499.6 380.2,500.8 379,502.0 377.8,500.8" fill="#2b2b2b"/>
<circle cx="404.6" cy="500.8" r="2.0" fill="#eef4f6" stroke="#2b2b2b" stroke-width="0.62"/>
<polygon points="404.6,499.6 405.8,500.8 404.6,502.0 403.40000000000003,500.8" fill="#2b2b2b"/>
<line x1="365.6" y1="510" x2="374.6" y2="510" stroke="#2b2b2b" stroke-width="0.75" />
<circle cx="367.0" cy="510" r="1.3" fill="#fff" stroke="#2b2b2b" stroke-width="0.62"/>
<circle cx="373.20000000000005" cy="510" r="1.3" fill="#fff" stroke="#2b2b2b" stroke-width="0.62"/>
<line x1="409.8" y1="510" x2="418.6" y2="510" stroke="#2b2b2b" stroke-width="0.75" />
<circle cx="411.2" cy="510" r="1.3" fill="#fff" stroke="#2b2b2b" stroke-width="0.62"/>
<circle cx="417.20000000000005" cy="510" r="1.3" fill="#fff" stroke="#2b2b2b" stroke-width="0.62"/>
<path d="M377,508.5 h6 v4 h-6 z M401.4,508.5 h6 v4 h-6 z" fill="none" stroke="#2b2b2b" stroke-width="0.62" stroke-linejoin="round" stroke-dasharray="1.6 1"/>
<polygon points="391.4,508.9 392.5,510 391.4,511.1 390.29999999999995,510" fill="#2b2b2b"/>
<polygon points="378,511 379,512 378,513 377,512" fill="#2b2b2b"/>
<polygon points="406.4,511 407.4,512 406.4,513 405.4,512" fill="#2b2b2b"/>
<polygon points="391.4,515.3 392.59999999999997,516.5 391.4,517.7 390.2,516.5" fill="#2b2b2b"/>
<circle cx="391.8" cy="527.6" r="6.2" fill="#e3edf1" stroke="#2b2b2b" stroke-width="1.12"/>
<circle cx="391.8" cy="527.6" r="4.2" fill="none" stroke="#2b2b2b" stroke-width="0.75"/>
<polygon points="387.2,522.3 388.3,523.4 387.2,524.5 386.09999999999997,523.4" fill="#2b2b2b"/>
<polygon points="396.4,522.3 397.5,523.4 396.4,524.5 395.29999999999995,523.4" fill="#2b2b2b"/>
<polygon points="387.2,530.6999999999999 388.3,531.8 387.2,532.9 386.09999999999997,531.8" fill="#2b2b2b"/>
<polygon points="396.4,530.6999999999999 397.5,531.8 396.4,532.9 395.29999999999995,531.8" fill="#2b2b2b"/>
<polygon points="391.6,520.8 392.8,522 391.6,523.2 390.40000000000003,522" fill="#2b2b2b"/>
<line x1="393.8" y1="423" x2="393.8" y2="438" stroke="#3c3c3c" stroke-width="0.78" />
<line x1="420.9" y1="423" x2="420.9" y2="438" stroke="#3c3c3c" stroke-width="0.78" />
<line x1="393.8" y1="426.4" x2="420.9" y2="426.4" stroke="#444" stroke-width="0.75" />
<polygon points="393.8,426.4 398.6,424.9 398.6,427.9" fill="#2b2b2b"/>
<polygon points="420.9,426.4 416.09999999999997,424.9 416.09999999999997,427.9" fill="#2b2b2b"/>
<text x="407" y="424" font-size="8.4" text-anchor="middle" font-weight="400" letter-spacing="0" >130</text>
<line x1="334" y1="437.8" x2="395" y2="437.8" stroke="#555" stroke-width="0.62" />
<line x1="336.4" y1="437.8" x2="336.4" y2="494" stroke="#444" stroke-width="0.75" />
<polygon points="336.4,437.8 334.9,442.6 337.9,442.6" fill="#2b2b2b"/>
<polygon points="336.4,494 334.9,489.2 337.9,489.2" fill="#2b2b2b"/>
<text x="333.3" y="466" font-size="9.6" text-anchor="middle" font-weight="400" letter-spacing="0" transform="rotate(-90 333.3 466)" >268</text>
<line x1="361.5" y1="464.6" x2="384.5" y2="464.6" stroke="#555" stroke-width="0.62" />
<line x1="363.8" y1="464.6" x2="363.8" y2="494" stroke="#444" stroke-width="0.75" />
<polygon points="363.8,464.6 362.3,469.40000000000003 365.3,469.40000000000003" fill="#2b2b2b"/>
<polygon points="363.8,494 362.3,489.2 365.3,489.2" fill="#2b2b2b"/>
<text x="359.8" y="481.7" font-size="9.3" text-anchor="middle" font-weight="400" letter-spacing="0" transform="rotate(-90 359.8 481.7)" >135</text>
<text x="347.8" y="471.3" font-size="9.2" text-anchor="middle" font-weight="400" letter-spacing="0" transform="rotate(-90 347.8 471.3)" textLength="36" lengthAdjust="spacingAndGlyphs">有効高さ</text>
<line x1="334" y1="537.4" x2="383" y2="537.4" stroke="#555" stroke-width="0.62" />
<line x1="336.8" y1="506.8" x2="336.8" y2="537.4" stroke="#444" stroke-width="0.75" />
<polygon points="336.8,506.8 335.3,511.6 338.3,511.6" fill="#2b2b2b"/>
<polygon points="336.8,537.4 335.3,532.6 338.3,532.6" fill="#2b2b2b"/>
<text x="333.6" y="523" font-size="9.6" text-anchor="middle" font-weight="400" letter-spacing="0" transform="rotate(-90 333.6 523)" >143</text>
<line x1="421.3" y1="494" x2="421.3" y2="551" stroke="#3c3c3c" stroke-width="0.78" />
<line x1="375" y1="518" x2="375" y2="551" stroke="#3c3c3c" stroke-width="0.78" />
<line x1="375" y1="548.2" x2="421.3" y2="548.2" stroke="#444" stroke-width="0.75" />
<polygon points="375,548.2 379.8,546.7 379.8,549.7" fill="#2b2b2b"/>
<polygon points="421.3,548.2 416.5,546.7 416.5,549.7" fill="#2b2b2b"/>
<text x="397.4" y="545.7" font-size="9.7" text-anchor="middle" font-weight="400" letter-spacing="0" >220</text>
<path d="M400,521.8 L386.5,531 L375.4,549 L365.5,563.8 L316,563.8" fill="none" stroke="#2b2b2b" stroke-width="0.69" stroke-linejoin="round" />
<polygon points="386.2,530.2 387.59999999999997,531.6 386.2,533.0 384.8,531.6" fill="#2b2b2b"/>
<text x="315.6" y="551" font-size="8.9" text-anchor="start" font-weight="400" letter-spacing="0" textLength="53.2" lengthAdjust="spacingAndGlyphs">ドライブプーリ</text>
<text x="312.7" y="562.8" font-size="10.4" font-style="italic" style="font-family:IPAGothic,'Liberation Sans',sans-serif">φ</text>
<text x="321.6" y="562.2" font-size="9.4" text-anchor="start" font-weight="400" letter-spacing="0" >65</text>
</svg>
</body></html>
